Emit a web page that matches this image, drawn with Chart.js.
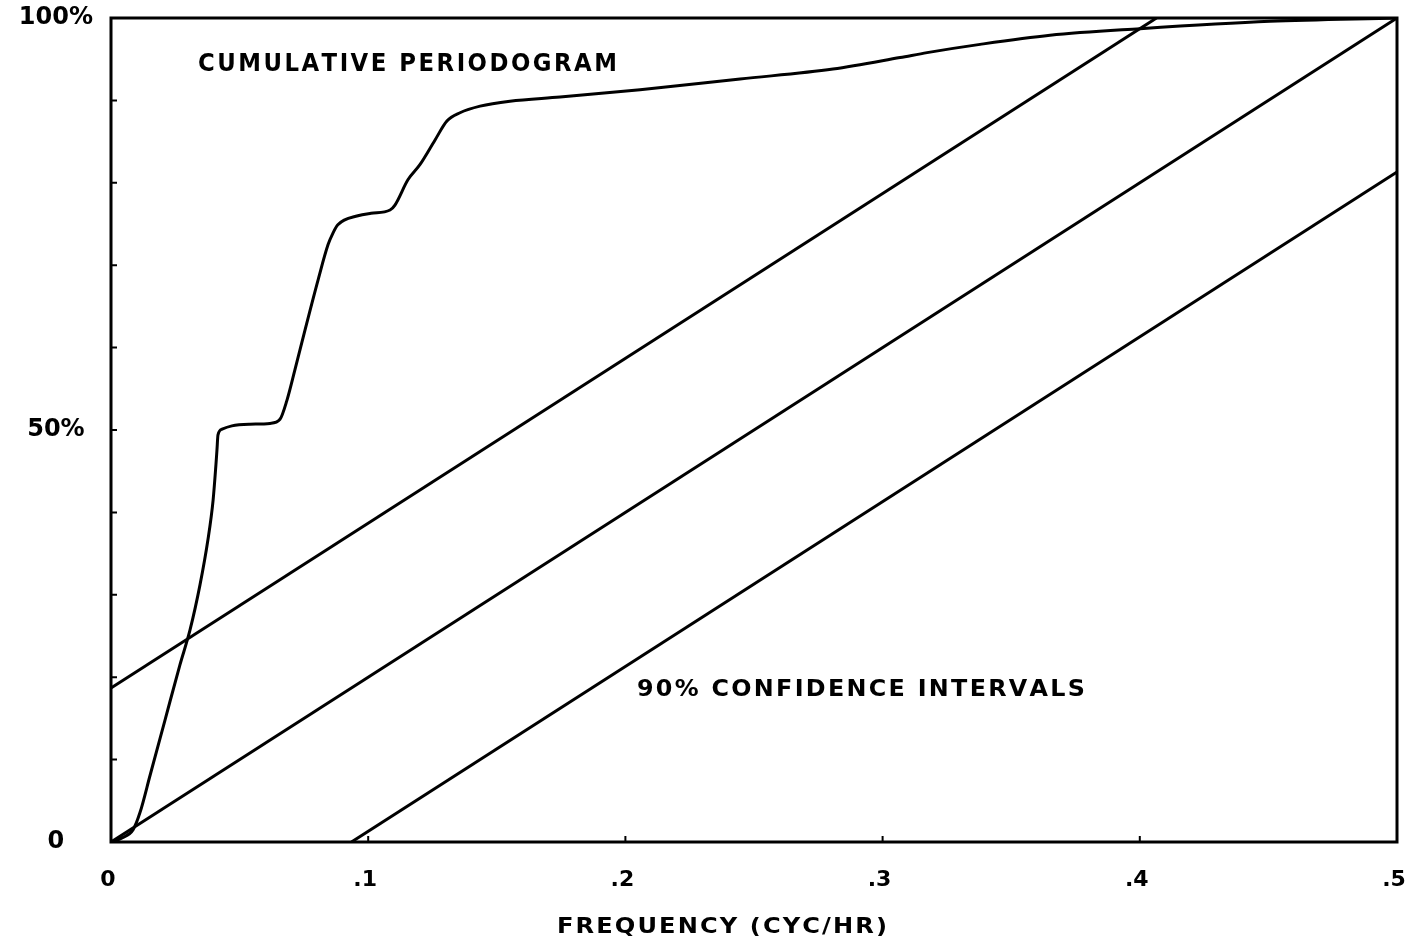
<!DOCTYPE html>
<html>
<head>
<meta charset="utf-8">
<title>Cumulative periodogram</title>
<script src="https://cdn.jsdelivr.net/npm/chart.js@4.4.1/dist/chart.umd.min.js"></script>
<style>
  html, body { margin: 0; padding: 0; background: #fff; }
  #wrap { width: 1416px; height: 948px; position: relative; }
</style>
</head>
<body>
<div id="wrap"><canvas id="cp"></canvas></div>
<script>
// frequency (cyc/hr) and cumulative periodogram (%)
const freq = [0, 0.0043, 0.0086, 0.0113, 0.0152, 0.0210, 0.0268, 0.0307, 0.0346, 0.0377,
  0.0397, 0.0408, 0.0412, 0.0416, 0.0432, 0.0470, 0.0540, 0.0618, 0.0657, 0.0684,
  0.0715, 0.0754, 0.0805, 0.0844, 0.0863, 0.0882, 0.0960, 0.1011, 0.1085, 0.1104,
  0.1155, 0.1201, 0.1260, 0.1306, 0.1357, 0.1435, 0.1551, 0.1746, 0.2057, 0.2446,
  0.2807, 0.3068, 0.3173, 0.3379, 0.3651, 0.4001, 0.4506, 0.5];
const cumPct = [0, 0.5, 1.5, 3.6, 8.1, 14.8, 21.5, 25.7, 31.2, 36.7,
  41.5, 45.8, 47.6, 49.4, 50.1, 50.5, 50.7, 50.8, 51.3, 53.6,
  57.3, 62.1, 68.2, 72.5, 73.9, 74.9, 76.0, 76.3, 76.7, 77.3,
  80.4, 82.2, 85.2, 87.5, 88.5, 89.3, 89.9, 90.4, 91.3, 92.6,
  93.8, 95.2, 95.8, 96.8, 97.9, 98.7, 99.6, 100];

// 90% confidence band: centre line and the two limits
const midFreq = [0, 0.5];
const midPct = [0, 100];
const upperFreq = [0, 0.4065];
const upperPct = [18.7, 100];
const lowerFreq = [0.0935, 0.5];
const lowerPct = [0, 81.3];

const xTicks = [0, 0.1, 0.2, 0.3, 0.4, 0.5];
const xTickLabels = ['0', '.1', '.2', '.3', '.4', '.5'];
const yTickLabels = { 0: '0', 50: '50%', 100: '100%' };

const FONT = '"DejaVu Sans", sans-serif';

function pts(xs, ys) {
  return xs.map((x, i) => ({ x: x, y: ys[i] }));
}

function lineSet(data, smooth) {
  return {
    data: data,
    showLine: true,
    borderColor: '#000',
    borderWidth: 3,
    pointRadius: 0,
    fill: false,
    cubicInterpolationMode: smooth ? 'monotone' : 'default',
    tension: smooth ? 0.4 : 0
  };
}

// lettering: glyphs widened and spaced so the line fills `width`
function letterText(ctx, text, x, y, width, size) {
  const chars = text.split('');
  const widths = chars.map(c => ctx.measureText(c).width);
  const total = widths.reduce((a, b) => a + b, 0);
  const gap = size * 0.1;
  const stretch = (width - gap * (chars.length - 1)) / total;
  let cx = x;
  chars.forEach((c, i) => {
    ctx.save();
    ctx.translate(cx, y);
    ctx.scale(stretch, 1);
    ctx.fillText(c, 0, 0);
    ctx.restore();
    cx += widths[i] * stretch + gap;
  });
}

const framePlugin = {
  id: 'frame',
  afterDatasetsDraw(chart) {
    const { ctx, chartArea: a, scales } = chart;
    ctx.save();
    ctx.strokeStyle = '#000';
    ctx.lineWidth = 3;
    ctx.strokeRect(a.left, a.top, a.right - a.left, a.bottom - a.top);

    // short ticks pointing into the plot
    ctx.lineWidth = 2;
    ctx.beginPath();
    for (let v = 10; v < 100; v += 10) {
      const py = scales.y.getPixelForValue(v);
      ctx.moveTo(a.left, py);
      ctx.lineTo(a.left + 6, py);
    }
    xTicks.slice(1, -1).forEach(v => {
      const px = scales.x.getPixelForValue(v);
      ctx.moveTo(px, a.bottom);
      ctx.lineTo(px, a.bottom - 6);
    });
    ctx.stroke();

    ctx.fillStyle = '#000';
    ctx.textBaseline = 'middle';
    ctx.textAlign = 'left';
    ctx.font = 'bold 25px ' + FONT;
    letterText(ctx, 'CUMULATIVE PERIODOGRAM',
      scales.x.getPixelForValue(0.0338), scales.y.getPixelForValue(94.3), 419, 25);
    ctx.font = 'bold 23px ' + FONT;
    letterText(ctx, '90% CONFIDENCE INTERVALS',
      scales.x.getPixelForValue(0.2045), scales.y.getPixelForValue(18.4), 448, 23);

    // axis title under the frequency labels
    ctx.font = 'bold 21px ' + FONT;
    letterText(ctx, 'FREQUENCY (CYC/HR)',
      scales.x.getPixelForValue(0.1734), a.bottom + 86, 330, 21);
    ctx.restore();
  }
};

new Chart(document.getElementById('cp'), {
  type: 'scatter',
  data: {
    datasets: [
      lineSet(pts(freq, cumPct), true),
      lineSet(pts(upperFreq, upperPct), false),
      lineSet(pts(midFreq, midPct), false),
      lineSet(pts(lowerFreq, lowerPct), false)
    ]
  },
  options: {
    responsive: true,
    maintainAspectRatio: false,
    devicePixelRatio: 1,
    animation: false,
    layout: { padding: { top: 18, right: 19, left: 0, bottom: 0 } },
    plugins: {
      legend: { display: false },
      tooltip: { enabled: false }
    },
    scales: {
      x: {
        type: 'linear',
        min: 0,
        max: 0.5,
        afterBuildTicks(scale) {
          scale.ticks = xTicks.map(v => ({ value: v }));
        },
        afterFit(scale) {
          scale.height = 106;
          scale.paddingLeft = 0;
          scale.paddingRight = 0;
        },
        grid: { display: false, drawTicks: false },
        border: { display: false },
        ticks: {
          color: '#000',
          padding: 25,
          labelOffset: -3,
          maxRotation: 0,
          font: { family: FONT, size: 22, weight: 'bold' },
          callback: (v) => xTickLabels[xTicks.indexOf(v)] ?? ''
        }
      },
      y: {
        type: 'linear',
        min: 0,
        max: 100,
        afterBuildTicks(scale) {
          scale.ticks = [0, 50, 100].map(v => ({ value: v }));
        },
        afterFit(scale) {
          scale.width = 111;
          scale.paddingTop = 0;
          scale.paddingBottom = 0;
        },
        grid: { display: false, drawTicks: false },
        border: { display: false },
        ticks: {
          color: '#000',
          padding: 18,
          crossAlign: 'center',
          font: { family: FONT, size: 24, weight: 'bold' },
          callback: (v) => yTickLabels[v] ?? ''
        }
      }
    }
  },
  plugins: [framePlugin]
});
</script>
</body>
</html>
